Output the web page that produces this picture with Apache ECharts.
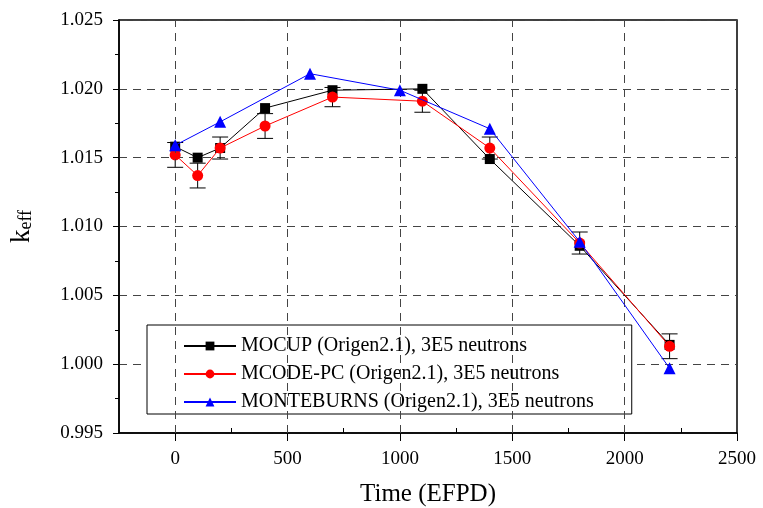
<!DOCTYPE html>
<html><head><meta charset="utf-8">
<script src="https://cdn.jsdelivr.net/npm/echarts@6/dist/echarts.min.js"></script>
<style>html,body{margin:0;padding:0;background:#fff}#c{width:763px;height:508px}</style>
</head><body><div id="c"></div>
<script>
// ---- data ----
const seriesNames = ['MOCUP (Origen2.1), 3E5 neutrons', 'MCODE-PC (Origen2.1), 3E5 neutrons', 'MONTEBURNS (Origen2.1), 3E5 neutrons'];
const xMocup = [0, 100, 200, 400, 700, 1100, 1400, 1800, 2200];
const yMocup = [1.0158, 1.0150, 1.0157, 1.0186, 1.0199, 1.0200, 1.0149, 1.0086, 1.0014];
const xMcode = [0, 100, 200, 400, 700, 1100, 1400, 1800, 2200];
const yMcode = [1.0152, 1.0137, 1.0157, 1.0173, 1.0194, 1.0191, 1.0157, 1.0088, 1.0013];
const errMcode = [0.0009, 0.0009, 0.0008, 0.0009, 0.0007, 0.0008, 0.0008, 0.0008, 0.0009];
const xMonte = [0, 200, 600, 1000, 1400, 1800, 2200];
const yMonte = [1.0159, 1.0176, 1.0211, 1.0199, 1.0171, 1.0089, 0.9997];
const xLabelValues = [0, 500, 1000, 1500, 2000, 2500];
const xMinorValues = [0, 250, 500, 750, 1000, 1250, 1500, 1750, 2000, 2250];
const xGridValues = [0, 500, 1000, 1500, 2000];
const xMin = -250, xMax = 2500;
const yMin = 0.995, yMax = 1.025, yStep = 0.005;

// ---- chart ----
const FONT = 'Liberation Serif';
const chart = echarts.init(document.getElementById('c'), null, {renderer: 'canvas'});
const pairs = (xs, ys) => xs.map((x, i) => [x, ys[i]]);

const option = {
  animation: false,
  backgroundColor: '#fff',
  textStyle: {fontFamily: FONT, color: '#000'},
  grid: {left: 119, right: 26, top: 20, bottom: 75, outerBoundsMode: 'none', containLabel: false,
         show: true, borderColor: '#000', borderWidth: 1.5, backgroundColor: 'transparent'},
  legend: {
    data: seriesNames,
    orient: 'vertical',
    left: 147, top: 325,
    padding: [10, 38, 1, 36],
    itemGap: 6,
    itemWidth: 52,
    itemHeight: 11,
    selectedMode: false,
    backgroundColor: '#fff',
    borderColor: '#000',
    borderWidth: 1,
    textStyle: {fontFamily: FONT, fontSize: 20, color: '#000', lineHeight: 22}
  },
  xAxis: [{
    type: 'value', min: xMin, max: xMax, position: 'bottom',
    axisLine: {onZero: false, lineStyle: {color: '#000', width: 1.5}},
    axisTick: {show: true, customValues: xLabelValues, length: 8, lineStyle: {color: '#000', width: 1}},
    axisLabel: {customValues: xLabelValues, fontFamily: FONT, fontSize: 19, color: '#000', margin: 17, formatter: v => String(v)},
    splitLine: {show: false},
    name: 'Time (EFPD)', nameLocation: 'middle', nameGap: 49,
    nameTextStyle: {fontFamily: FONT, fontSize: 25, color: '#000'}
  }, {
    type: 'value', min: xMin, max: xMax, position: 'bottom',
    axisLine: {show: false, onZero: false},
    axisTick: {show: true, inside: true, customValues: xMinorValues, length: 5, lineStyle: {color: '#000', width: 1}},
    axisLabel: {show: false},
    splitLine: {show: false}
  }],
  yAxis: {
    type: 'value', min: yMin, max: yMax, interval: yStep,
    axisLine: {show: true, onZero: false, lineStyle: {color: '#000', width: 1.5}},
    axisTick: {show: true, length: 6, lineStyle: {color: '#000'}},
    minorTick: {show: true, splitNumber: 2, length: 4, lineStyle: {color: '#000'}},
    axisLabel: {fontFamily: FONT, fontSize: 19, color: '#000', margin: 16, formatter: v => v.toFixed(3)},
    splitLine: {show: true, lineStyle: {color: '#444', type: [8, 6], width: 1}},
    name: '{k|k}{s|eff}', nameLocation: 'middle', nameGap: 84, nameRotate: 90,
    nameTextStyle: {rich: {
      k: {fontFamily: FONT, fontSize: 27, color: '#000', verticalAlign: 'bottom'},
      s: {fontFamily: FONT, fontSize: 18, color: '#000', verticalAlign: 'bottom', padding: [12, 0, 0, 0]}
    }}
  },
  series: [{
    type: 'line', data: [], z: 1, silent: true,
    markLine: {
      silent: true, symbol: 'none', label: {show: false},
      lineStyle: {color: '#444', type: [8, 6], width: 1},
      data: xGridValues.map(v => ({xAxis: v}))
    }
  }, {
    type: 'custom', z: 2, silent: true,
    data: xMcode.map((x, i) => [x, yMcode[i], errMcode[i]]),
    encode: {x: 0, y: 1},
    renderItem: (params, api) => {
      const x = api.value(0), y = api.value(1), e = api.value(2);
      const t = api.coord([x, y + e]), b = api.coord([x, y - e]);
      const hw = 8, st = {stroke: '#000', lineWidth: 1};
      return {type: 'group', children: [
        {type: 'line', shape: {x1: t[0], y1: t[1], x2: b[0], y2: b[1]}, style: st},
        {type: 'line', shape: {x1: t[0] - hw, y1: t[1], x2: t[0] + hw, y2: t[1]}, style: st},
        {type: 'line', shape: {x1: b[0] - hw, y1: b[1], x2: b[0] + hw, y2: b[1]}, style: st}
      ]};
    }
  }, {
    name: seriesNames[0], type: 'line', z: 3, data: pairs(xMocup, yMocup),
    symbol: 'rect', symbolSize: 10, color: '#000',
    lineStyle: {color: '#000', width: 1}, itemStyle: {color: '#000'}
  }, {
    name: seriesNames[1], type: 'line', z: 4, data: pairs(xMcode, yMcode),
    symbol: 'circle', symbolSize: 11, color: '#ff0000',
    lineStyle: {color: '#ff0000', width: 1}, itemStyle: {color: '#ff0000'}
  }, {
    name: seriesNames[2], type: 'line', z: 5, data: pairs(xMonte, yMonte),
    symbol: 'triangle', symbolSize: 12, color: '#0000ff',
    lineStyle: {color: '#0000ff', width: 1}, itemStyle: {color: '#0000ff'}
  }]
};
chart.setOption(option);
</script>
</body></html>
